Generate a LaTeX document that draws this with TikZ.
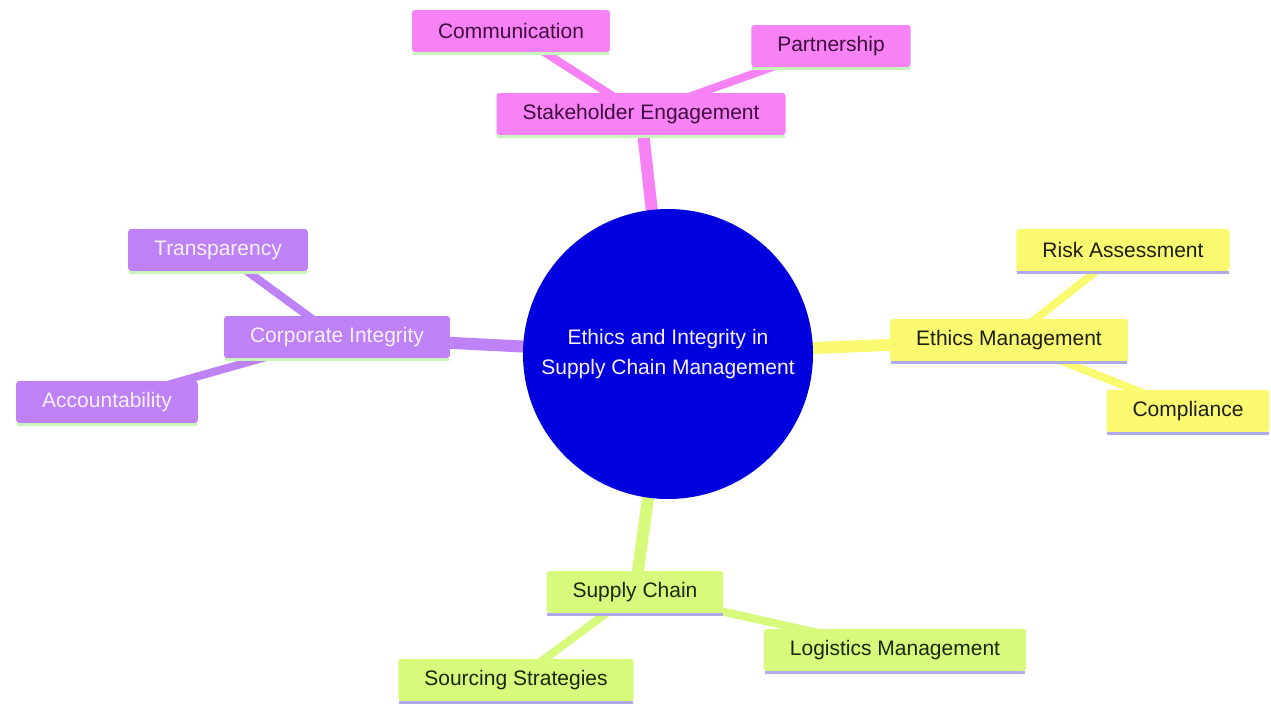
\documentclass[tikz,border=0pt]{standalone}
\usepackage{fontspec}
\setmainfont{Liberation Sans}
\usetikzlibrary{backgrounds}
\definecolor{pinkF}{RGB}{246,130,246}
\definecolor{pinkT}{RGB}{64,12,64}
\definecolor{purpF}{RGB}{190,130,246}
\definecolor{purpT}{RGB}{248,240,255}
\definecolor{yelF}{RGB}{250,250,112}
\definecolor{yelT}{RGB}{30,30,20}
\definecolor{grnF}{RGB}{215,250,125}
\definecolor{grnT}{RGB}{25,40,10}
\definecolor{lineG}{RGB}{200,245,185}
\definecolor{lineL}{RGB}{175,170,235}
\definecolor{core}{RGB}{0,0,222}
\tikzset{
  x=1pt, y=-1pt,
  box/.style={rectangle, rounded corners=3pt, inner xsep=26pt, inner ysep=0pt,
    minimum height=42pt, font=\fontsize{21}{25}\selectfont},
  pinkbox/.style={box, fill=pinkF, text=pinkT},
  purpbox/.style={box, fill=purpF, text=purpT},
  yelbox/.style={box, fill=yelF, text=yelT},
  grnbox/.style={box, fill=grnF, text=grnT},
  mainedge/.style={line width=12pt},
  subedge/.style={line width=8pt},
}
\newcommand{\boxline}[2]{\draw[#2, line width=3pt] ([xshift=1pt,yshift=-1.5pt]#1.south west) -- ([xshift=-1pt,yshift=-1.5pt]#1.south east);}
\begin{document}
\begin{tikzpicture}
\useasboundingbox (0,0) rectangle (1271,704);
\node[circle, fill=core, minimum size=290pt, inner sep=0pt, text=purpT,
  align=center, font=\fontsize{21}{30}\selectfont] (root) at (668,354)
  {Ethics and Integrity in\\Supply Chain Management};

\node[pinkbox] (se) at (641,114) {Stakeholder Engagement};
\node[pinkbox] (com) at (511,31) {Communication};
\node[pinkbox] (par) at (831,46) {Partnership};

\node[purpbox] (ci) at (337,337) {Corporate Integrity};
\node[purpbox] (tr) at (218,250) {Transparency};
\node[purpbox] (ac) at (107,402) {Accountability};

\node[yelbox] (em) at (1009,340) {Ethics Management};
\node[yelbox] (ra) at (1123,250) {Risk Assessment};
\node[yelbox] (cp) at (1188,411) {Compliance};

\node[grnbox] (sc) at (635,592) {Supply Chain};
\node[grnbox] (lm) at (895,650) {Logistics Management};
\node[grnbox] (ss) at (516,680) {Sourcing Strategies};

\boxline{se}{lineG}\boxline{com}{lineG}\boxline{par}{lineG}
\boxline{ci}{lineG}\boxline{tr}{lineG}\boxline{ac}{lineG}
\boxline{em}{lineL}\boxline{ra}{lineL}\boxline{cp}{lineL}
\boxline{sc}{lineL}\boxline{lm}{lineL}\boxline{ss}{lineL}

\begin{scope}[on background layer]
\fill[white] (0,0) rectangle (1271,704);
\draw[pinkF, mainedge] (root.center) -- (se.center);
\draw[pinkF, subedge] (se.center) -- (com.center);
\draw[pinkF, subedge] (se.center) -- (par.center);
\draw[purpF, mainedge] (root.center) -- (ci.center);
\draw[purpF, subedge] (ci.center) -- (tr.center);
\draw[purpF, subedge] (ci.center) -- (ac.center);
\draw[yelF, mainedge] (root.center) -- (em.center);
\draw[yelF, subedge] (em.center) -- (ra.center);
\draw[yelF, subedge] (em.center) -- (cp.center);
\draw[grnF, mainedge] (root.center) -- (sc.center);
\draw[grnF, subedge] (sc.center) -- (lm.center);
\draw[grnF, subedge] (sc.center) -- (ss.center);
\end{scope}
\end{tikzpicture}
\end{document}
